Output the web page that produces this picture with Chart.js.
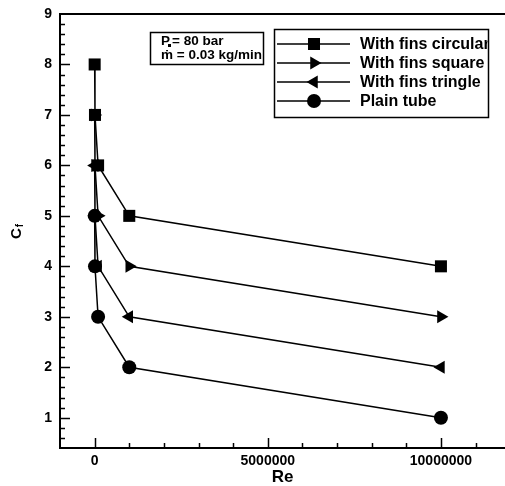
<!DOCTYPE html>
<html lang="en">
<head>
  <meta charset="UTF-8">
  <title>Cf vs Re</title>
  <script src="https://cdn.jsdelivr.net/npm/chart.js"></script>
  <style>
    html, body { margin: 0; padding: 0; background: #ffffff; overflow: hidden; }
    canvas { display: block; }
  </style>
</head>
<body>
  <canvas id="chart" width="505" height="486"></canvas>

<script>
  // data
  const reValues = [1000, 10000, 100000, 1000000, 10000000];
  const finsCircular = [8, 7, 6, 5, 4];
  const finsSquare = [7, 6, 5, 4, 3];
  const finsTriangle = [6, 5, 4, 3, 2];
  const plainTube = [5, 4, 3, 2, 1];

  const seriesNames = ['With fins circular', 'With fins square', 'With fins tringle', 'Plain tube'];
  const xTickValues = [0, 5000000, 10000000];
  const yTickValues = [1, 2, 3, 4, 5, 6, 7, 8, 9];

  const FONT = "'Liberation Sans', Arial, Helvetica, sans-serif";

  function pts(ys) {
    return reValues.map((x, i) => ({ x: x, y: ys[i] }));
  }

  function makeSet(label, ys, style, radius, rotation) {
    return {
      label: label,
      data: pts(ys),
      showLine: true,
      borderColor: '#000',
      borderWidth: 1.5,
      pointStyle: style,
      pointRadius: radius,
      pointHoverRadius: radius,
      pointRotation: rotation,
      pointBackgroundColor: '#000',
      pointBorderColor: '#000',
      pointBorderWidth: 0
    };
  }

  // inward ticks, top border, legend box and the note box
  const decorations = {
    id: 'decorations',
    afterDraw(chart) {
      const ctx = chart.ctx;
      const xs = chart.scales.x, ys = chart.scales.y;
      const a = chart.chartArea;
      ctx.save();
      ctx.strokeStyle = '#000';

      // top border
      ctx.lineWidth = 2;
      ctx.beginPath();
      ctx.moveTo(a.left, a.top);
      ctx.lineTo(a.right, a.top);
      ctx.stroke();

      // y ticks (major 1, minor 0.2)
      ctx.lineWidth = 1.5;
      for (let k = 3; k <= 44; k++) {
        const py = Math.round(ys.getPixelForValue(k / 5)) + 0.5;
        const len = (k % 5 === 0) ? 10 : 5;
        ctx.beginPath();
        ctx.moveTo(a.left, py);
        ctx.lineTo(a.left + len, py);
        ctx.stroke();
      }
      // x ticks (major 5e6, minor 1e6)
      for (let k = 0; k <= 11; k++) {
        const px = Math.round(xs.getPixelForValue(k * 1000000)) + 0.5;
        const len = (k % 5 === 0) ? 10 : 5;
        ctx.beginPath();
        ctx.moveTo(px, a.bottom);
        ctx.lineTo(px, a.bottom - len);
        ctx.stroke();
      }

      // y title C_f rotated
      ctx.fillStyle = '#000';
      ctx.save();
      ctx.translate(21, 231);
      ctx.rotate(-Math.PI / 2);
      ctx.textBaseline = 'alphabetic';
      ctx.textAlign = 'left';
      ctx.font = 'bold 15px ' + FONT;
      const cw = ctx.measureText('C').width;
      ctx.fillText('C', -8, 0);
      ctx.font = 'bold 10px ' + FONT;
      ctx.fillText('f', -8 + cw + 1, 2);
      ctx.restore();

      // note box
      ctx.lineWidth = 1.5;
      ctx.strokeRect(150.5, 32.5, 113, 32);
      ctx.font = 'bold 13.5px ' + FONT;
      ctx.textBaseline = 'middle';
      ctx.textAlign = 'left';
      ctx.fillText('P', 161, 41);
      ctx.fillText('= 80 bar', 172, 41);
      ctx.fillRect(168, 44, 3, 3);
      ctx.fillText('\u1E41 = 0.03 kg/min', 161, 55);

      // legend box
      const lx = 274.5, ly = 29.5, lw = 214, lh = 88;
      ctx.lineWidth = 1.5;
      ctx.strokeRect(lx, ly, lw, lh);
      ctx.save();
      ctx.beginPath();
      ctx.rect(lx, ly, lw - 1, lh);
      ctx.clip();
      chart.data.datasets.forEach((ds, i) => {
        const ry = 44 + i * 19;
        ctx.lineWidth = 1.5;
        ctx.beginPath();
        ctx.moveTo(277, ry);
        ctx.lineTo(350, ry);
        ctx.stroke();
        ctx.fillStyle = '#000';
        Chart.helpers.drawPoint(ctx, {
          pointStyle: ds.pointStyle,
          radius: ds.pointRadius,
          rotation: ds.pointRotation,
          borderWidth: 0
        }, 314, ry);
        ctx.font = 'bold 16px ' + FONT;
        ctx.textBaseline = 'middle';
        ctx.fillText(ds.label, 360, ry + 1);
      });
      ctx.restore();

      ctx.restore();
    }
  };

  new Chart(document.getElementById('chart'), {
    type: 'scatter',
    data: {
      datasets: [
        makeSet(seriesNames[0], finsCircular, 'rect', 8.5, 0),
        makeSet(seriesNames[1], finsSquare, 'triangle', 7.5, 90),
        makeSet(seriesNames[2], finsTriangle, 'triangle', 7.5, 270),
        makeSet(seriesNames[3], plainTube, 'circle', 7, 0)
      ]
    },
    options: {
      responsive: false,
      animation: false,
      layout: { autoPadding: false, padding: { top: 14, right: 0, left: 0, bottom: 0 } },
      plugins: {
        legend: { display: false },
        tooltip: { enabled: false }
      },
      scales: {
        x: {
          type: 'linear',
          min: -1000000,
          max: 11850000,
          grid: { display: false, drawTicks: false },
          border: { display: true, color: '#000', width: 2 },
          afterBuildTicks: s => { s.ticks = xTickValues.map(v => ({ value: v })); },
          afterFit: s => { s.height = 38; s.paddingLeft = 0; s.paddingRight = 0; },
          ticks: {
            color: '#000',
            padding: 5,
            maxRotation: 0,
            font: { family: FONT, size: 14, weight: 'bold' },
            callback: v => String(v)
          },
          title: {
            display: true,
            text: 'Re',
            color: '#000',
            padding: { top: 0, bottom: 0 },
            font: { family: FONT, size: 17, weight: 'bold', lineHeight: 1 }
          }
        },
        y: {
          min: 0.4,
          max: 9,
          grid: { display: false, drawTicks: false },
          border: { display: true, color: '#000', width: 2 },
          afterBuildTicks: s => { s.ticks = yTickValues.map(v => ({ value: v })); },
          afterFit: s => { s.width = 60; s.paddingTop = 0; s.paddingBottom = 0; },
          ticks: {
            color: '#000',
            padding: 8,
            font: { family: FONT, size: 14, weight: 'bold' },
            callback: v => String(v)
          }
        }
      }
    },
    plugins: [decorations]
  });
</script>
</body>
</html>
